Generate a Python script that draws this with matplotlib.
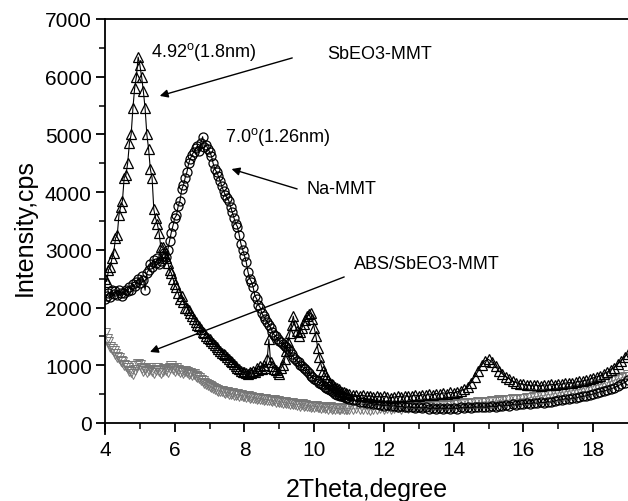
import numpy as np
import matplotlib
matplotlib.use("Agg")
import matplotlib.pyplot as plt

plt.rcParams["font.family"] = ["Liberation Sans", "DejaVu Sans"]
plt.rcParams["mathtext.fontset"] = "custom"
plt.rcParams["mathtext.rm"] = "Liberation Sans"

# 2theta scan: 0.05 deg steps up to 11, 0.1 deg after that
two_theta = np.round(np.concatenate([np.arange(4.0, 10.999, 0.05),
                                     np.arange(11.0, 19.001, 0.1)]), 2)

na_mmt = [
    2150, 2200, 2250, 2180, 2300, 2230, 2280, 2220, 2300, 2250,
    2200, 2260, 2300, 2280, 2350, 2300, 2400, 2380, 2450, 2500,
    2420, 2550, 2480, 2300, 2600, 2650, 2750, 2700, 2820, 2780,
    2850, 2750, 2800, 2900, 2950, 2880, 3000, 3150, 3300, 3420,
    3550, 3600, 3760, 3850, 4050, 4120, 4250, 4350, 4500, 4580,
    4650, 4700, 4760, 4800, 4720, 4850, 4960, 4780, 4820, 4750,
    4700, 4630, 4500, 4400, 4350, 4280, 4200, 4100, 4020, 3950,
    3900, 3850, 3750, 3650, 3550, 3450, 3400, 3250, 3100, 3000,
    2900, 2790, 2620, 2500, 2450, 2350, 2200, 2150, 2050, 2000,
    1900, 1850, 1800, 1750, 1700, 1650, 1580, 1530, 1500, 1460,
    1420, 1400, 1370, 1340, 1320, 1280, 1250, 1200, 1150, 1100,
    1080, 1050, 1000, 980, 950, 930, 900, 860, 820, 790,
    760, 740, 720, 700, 670, 650, 620, 600, 590, 570,
    550, 530, 510, 490, 480, 470, 460, 450, 440, 430,
    # 11.0 - 19.0
    420, 400, 390, 370, 360, 350, 340, 330, 320, 310,
    300, 310, 290, 300, 280, 290, 270, 280, 270, 260,
    270, 260, 270, 250, 260, 250, 260, 250, 260, 250,
    260, 250, 270, 260, 270, 260, 280, 270, 280, 270,
    280, 290, 280, 300, 290, 310, 300, 320, 310, 320,
    330, 340, 330, 350, 340, 360, 350, 370, 360, 380,
    400, 400, 420, 410, 430, 430, 450, 460, 470, 490,
    500, 520, 540, 550, 570, 590, 610, 640, 670, 700,
    740,
]

sbeo3_mmt = [
    2500, 2450, 2650, 2700, 2850, 2950, 3200, 3250, 3600, 3750,
    3850, 4250, 4300, 4500, 4850, 5000, 5450, 5800, 6000, 6340,
    6200, 6000, 5750, 5450, 5000, 4750, 4400, 4250, 3700, 3550,
    3450, 3300, 3050, 3050, 2950, 2850, 2780, 2650, 2600, 2500,
    2400, 2350, 2250, 2150, 2200, 2100, 2000, 2000, 1950, 1900,
    1850, 1800, 1750, 1700, 1680, 1620, 1580, 1550, 1500, 1470,
    1450, 1420, 1380, 1350, 1320, 1280, 1250, 1220, 1200, 1170,
    1150, 1100, 1080, 1060, 1020, 980, 960, 940, 900, 880,
    880, 860, 850, 880, 860, 900, 880, 950, 920, 990,
    940, 1000, 960, 1100, 1450, 1050, 980, 940, 920, 880,
    850, 950, 1000, 1100, 1250, 1400, 1550, 1700, 1850, 1700,
    1600, 1500, 1580, 1650, 1720, 1780, 1850, 1880, 1900, 1800,
    1650, 1500, 1300, 1150, 1000, 900, 850, 800, 740, 700,
    680, 650, 620, 600, 580, 560, 540, 530, 520, 500,
    # 11.0 - 19.0
    500, 490, 480, 470, 480, 460, 470, 450, 460, 450,
    460, 450, 440, 450, 460, 450, 470, 460, 470, 480,
    470, 490, 480, 500, 490, 510, 500, 520, 510, 530,
    520, 540, 560, 580, 620, 700, 800, 900, 1000, 1080,
    1100, 1050, 980, 900, 850, 800, 760, 720, 700, 680,
    670, 660, 650, 660, 650, 640, 660, 650, 670, 660,
    680, 670, 690, 700, 690, 710, 720, 730, 740, 760,
    780, 800, 820, 850, 880, 920, 960, 1020, 1080, 1150,
    1200,
]

abs_sbeo3_mmt = [
    1550, 1450, 1400, 1320, 1280, 1250, 1200, 1150, 1120, 1080,
    1050, 1000, 980, 950, 900, 880, 850, 920, 980, 1020,
    1000, 950, 900, 930, 880, 920, 950, 900, 870, 920,
    950, 900, 860, 900, 940, 920, 880, 950, 980, 940,
    900, 950, 920, 880, 900, 860, 900, 880, 850, 870,
    830, 850, 820, 800, 780, 750, 720, 700, 680, 650,
    640, 620, 600, 580, 570, 560, 550, 560, 530, 520,
    540, 510, 500, 520, 490, 480, 500, 470, 480, 460,
    470, 450, 460, 440, 450, 430, 440, 420, 430, 410,
    420, 400, 410, 400, 390, 400, 380, 390, 370, 380,
    360, 370, 350, 360, 340, 350, 330, 340, 320, 330,
    310, 330, 300, 320, 300, 310, 290, 300, 280, 300,
    280, 290, 270, 280, 260, 280, 260, 270, 250, 270,
    250, 260, 240, 260, 250, 240, 260, 250, 240, 250,
    # 11.0 - 19.0
    250, 240, 260, 250, 240, 250, 230, 250, 240, 260,
    250, 260, 240, 260, 270, 250, 270, 260, 280, 270,
    280, 270, 290, 280, 300, 290, 300, 310, 300, 320,
    310, 330, 320, 340, 330, 350, 340, 360, 350, 370,
    360, 380, 370, 390, 380, 400, 390, 410, 400, 420,
    420, 430, 440, 450, 460, 470, 480, 490, 500, 510,
    520, 530, 540, 550, 560, 570, 580, 590, 610, 620,
    640, 650, 670, 680, 700, 720, 740, 760, 780, 800,
    830,
]

fig = plt.figure(figsize=(6.28, 5.02), dpi=100)
ax = fig.add_axes([0.1672, 0.1325, 0.8328, 0.8277])

ax.plot(two_theta, abs_sbeo3_mmt, color="#808080", lw=0.6, marker="v", ms=7,
        mfc="none", mec="#767676", mew=0.7, zorder=2)
ax.plot(two_theta, na_mmt, color="black", lw=0.8, marker="o", ms=6.5,
        mfc="none", mec="black", mew=0.9, zorder=3)
ax.plot(two_theta, sbeo3_mmt, color="black", lw=0.8, marker="^", ms=7.2,
        mfc="none", mec="black", mew=0.9, zorder=4)

ax.set_xlim(4, 19)
ax.set_ylim(-200, 7000)
ax.spines["bottom"].set_position(("data", 0))
ax.spines["right"].set_visible(False)
for s in ax.spines.values():
    s.set_linewidth(1.3)

ax.set_xticks(np.arange(4, 19, 2))
ax.set_xticks(np.arange(5, 19, 2), minor=True)
ax.set_yticks(np.arange(0, 7001, 1000))
ax.set_yticks(np.arange(500, 7000, 1000), minor=True)
ax.tick_params(which="major", direction="out", length=6.5, width=1.3,
               labelsize=15, top=False, right=False)
ax.tick_params(which="minor", direction="out", length=4, width=1.1,
               top=False, right=False)
ax.tick_params(axis="x", which="major", pad=6)
ax.tick_params(axis="y", which="major", pad=3)

ax.set_xlabel("2Theta,degree", fontsize=18, labelpad=13)
ax.set_ylabel("Intensity,cps", fontsize=18, labelpad=6)

arrow = dict(arrowstyle="-|>", color="black", lw=1.0, mutation_scale=12,
             shrinkA=0, shrinkB=0)

ax.text(5.31, 6450, r"4.92$^\mathrm{o}$(1.8nm)", fontsize=13, va="center")
ax.text(10.37, 6400, "SbEO3-MMT", fontsize=13, va="center")
ax.annotate("", xy=(5.57, 5667), xytext=(9.37, 6325), arrowprops=arrow)

ax.text(7.43, 4975, r"7.0$^\mathrm{o}$(1.26nm)", fontsize=13, va="center")
ax.text(9.77, 4055, "Na-MMT", fontsize=13, va="center")
ax.annotate("", xy=(7.63, 4400), xytext=(9.51, 4055), arrowprops=arrow)

ax.text(11.14, 2755, "ABS/SbEO3-MMT", fontsize=13, va="center")
ax.annotate("", xy=(5.29, 1230), xytext=(10.86, 2530), arrowprops=arrow)

fig.savefig("out.png", dpi=100)
